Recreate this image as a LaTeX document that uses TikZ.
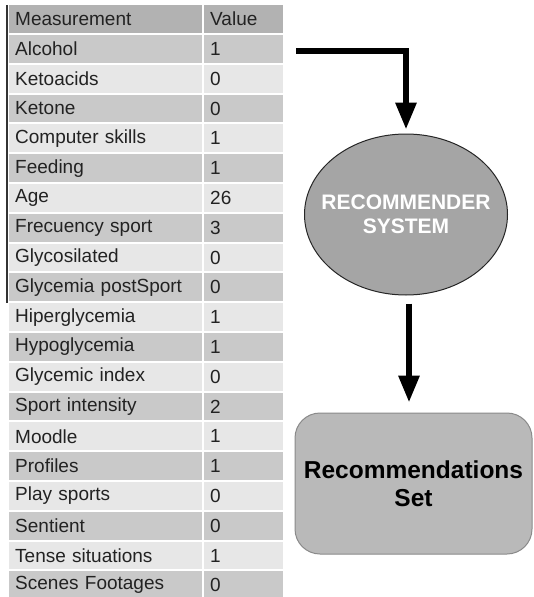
\documentclass[tikz,border=0pt]{standalone}
\usepackage{fontspec}
\setmainfont{Liberation Sans}
\usetikzlibrary{shapes.geometric,arrows.meta}
\definecolor{headgray}{HTML}{B2B2B2}
\definecolor{darkrow}{HTML}{C9C9C9}
\definecolor{lightrow}{HTML}{E7E7E7}
\definecolor{tabtext}{HTML}{222222}
\definecolor{ellfill}{HTML}{A5A5A5}
\definecolor{boxfill}{HTML}{B9B9B9}
\definecolor{boxline}{HTML}{8A8A8A}
\tikzset{
  cell/.style={rectangle, anchor=north west, inner xsep=6pt, inner ysep=0pt,
    minimum height=27.8pt, align=left, text=tabtext,
    font=\fontsize{19}{22}\selectfont},
  namecell/.style={cell, text width=181pt},
  valcell/.style={cell, text width=67pt},
  flowarrow/.style={line width=6pt, -{Triangle[width=20pt,length=27pt]}},
}
\begin{document}
\begin{tikzpicture}[x=1pt,y=-1pt]
\useasboundingbox (0,0) rectangle (534,597);
\fill[white] (0,0) rectangle (534,597);

% measurement table
\foreach \r/\m/\v [count=\i from 0] in {
  Measurement/Value, Alcohol/1, Ketoacids/0, Ketone/0, Computer skills/1,
  Feeding/1, Age/26, Frecuency sport/3, Glycosilated/0, Glycemia postSport/0,
  Hiperglycemia/1, Hypoglycemia/1, Glycemic index/0, Sport intensity/2,
  Moodle/1, Profiles/1, Play sports/0, Sentient/0, Tense situations/1,
  Scenes Footages/0}{
  \pgfmathsetmacro{\top}{5+29.8*\i}
  \ifnum\i=0 \def\rowcol{headgray}\else
    \ifodd\i \def\rowcol{darkrow}\else \def\rowcol{lightrow}\fi\fi
  \node[namecell, fill=\rowcol] (m\i) at (9,\top) {\r};
  \node[valcell, fill=\rowcol] (v\i) at (204,\top) {\v};
}
\draw[line width=1.5pt, color=black!80] (7,5) -- (7,303);

% recommender system
\node[ellipse, draw=black!85, line width=1pt, fill=ellfill,
  minimum width=203pt, minimum height=161pt, inner sep=0pt]
  (rs) at (406,214.5) {};
\node[align=center, text=white, font=\bfseries\fontsize{21}{24}\selectfont]
  (rslabel) at (rs.center) {RECOMMENDER\\SYSTEM};

% recommendations set
\node[rectangle, rounded corners=25pt, draw=boxline, line width=1pt,
  fill=boxfill, minimum width=237pt, minimum height=141pt, align=center,
  font=\bfseries\fontsize{24.5}{28}\selectfont]
  (rec) at (413.5,483.5) {Recommendations\\Set};

% connectors
\coordinate (src) at (296,51);
\draw[flowarrow, shorten >=4pt] (src) -| (rs.north);
\draw[flowarrow] ([xshift=3pt,yshift=-8pt]rs.south) -- ([xshift=-4.5pt,yshift=10pt]rec.north);
\end{tikzpicture}
\end{document}
